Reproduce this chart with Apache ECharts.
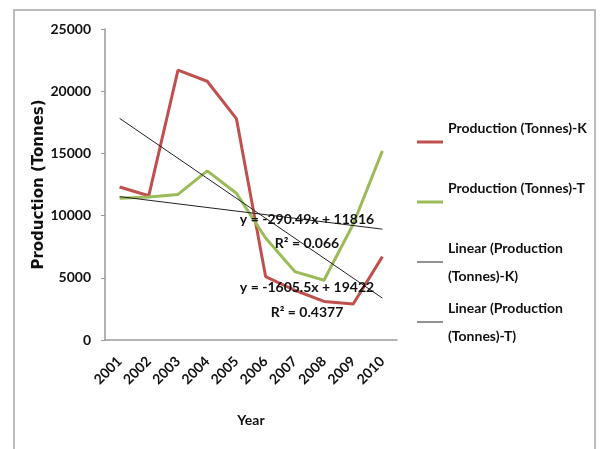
<!DOCTYPE html>
<html>
<head>
<meta charset="utf-8">
<script src="https://cdn.jsdelivr.net/npm/echarts@6/dist/echarts.min.js"></script>
<style>
html,body{margin:0;padding:0;background:#fff;}
#main{width:601px;height:449px;}
</style>
</head>
<body>
<div id="main"></div>
<script>
var years = ['2001','2002','2003','2004','2005','2006','2007','2008','2009','2010'];
var prodK = [12300, 11600, 21700, 20800, 17800, 5100, 4000, 3100, 2900, 6700];
var prodT = [11400, 11500, 11700, 13600, 11800, 8200, 5500, 4800, 9300, 15200];
// trendline end values (first and last year)
var trendK = [17816, null, null, null, null, null, null, null, null, 3367];
var trendT = [11525, null, null, null, null, null, null, null, null, 8911];
var yTicks = [0, 5000, 10000, 15000, 20000, 25000];
var eqK = ['y = -1605.5x + 19422', 'R\u00B2 = 0.4377'];
var eqT = ['y = -290.49x + 11816', 'R\u00B2 = 0.066'];

var FONT = 'Lato, "Open Sans", sans-serif';
var chart = echarts.init(document.getElementById('main'));
var nameK = 'Production (Tonnes)-K', nameT = 'Production (Tonnes)-T';
var nameLK = 'Linear (Production (Tonnes)-K)', nameLT = 'Linear (Production (Tonnes)-T)';
var ICON_THICK = 'path://M0,0 M26,14 M0,5.5H26V8.5H0Z';
var ICON_THIN = 'path://M0,0 M26,14 M0,6.5H26V7.5H0Z';

function annot(text, x, y) {
  return {type:'text', x:x, y:y, z:100,
    style:{text:text, fill:'#111', font:'bold 14px ' + FONT, textAlign:'center', textVerticalAlign:'middle'}};
}

chart.setOption({
  animation:false,
  backgroundColor:'#fff',
  grid:{left:105, right:204, top:29, bottom:109, containLabel:false},
  legend:{
    orient:'vertical', left:417, top:100, padding:0, itemGap:-24,
    itemWidth:26, itemHeight:14,
    data:[
      {name:nameK, icon:ICON_THICK},
      {name:nameT, icon:ICON_THICK},
      {name:nameLK, icon:ICON_THIN},
      {name:nameLT, icon:ICON_THIN}
    ],
    formatter:function(n){
      if (n.indexOf('Linear') === 0) return n.replace('(Production (', '(Production\n(');
      return n + '\n ';
    },
    textStyle:{fontFamily:FONT, fontWeight:'bold', fontSize:14, color:'#111', lineHeight:28, padding:[28,0,0,0]}
  },
  xAxis:{
    type:'category', data:years, boundaryGap:true,
    name:'Year', nameLocation:'middle', nameGap:73,
    nameTextStyle:{fontFamily:FONT, fontWeight:'bold', fontSize:14, color:'#111'},
    axisLine:{lineStyle:{color:'#999', width:1.5}},
    axisTick:{show:false},
    axisLabel:{rotate:45, margin:19, fontFamily:FONT, fontWeight:'bold', fontSize:14, color:'#111', interval:0}
  },
  yAxis:{
    type:'value', min:yTicks[0], max:yTicks[yTicks.length-1], interval:5000,
    name:'Production (Tonnes)', nameLocation:'middle', nameGap:57,
    nameTextStyle:{fontFamily:'"DejaVu Sans", sans-serif', fontWeight:'bold', fontSize:15, color:'#111'},
    axisLine:{show:true, lineStyle:{color:'#999', width:1.5}},
    axisTick:{show:true, length:4, lineStyle:{color:'#999'}},
    splitLine:{show:false},
    axisLabel:{margin:14, fontFamily:FONT, fontWeight:'bold', fontSize:14, color:'#111',
      formatter:function(v){ return String(v); }}
  },
  series:[
    {name:nameK, type:'line', data:prodK, symbol:'none', color:'#C0504D', lineStyle:{width:3, color:'#C0504D'}, z:3},
    {name:nameT, type:'line', data:prodT, symbol:'none', color:'#9BBB59', lineStyle:{width:3, color:'#9BBB59'}, z:3},
    {name:nameLK, type:'line', data:trendK, connectNulls:true, symbol:'none', color:'#222', lineStyle:{width:1, color:'#222'}, z:4},
    {name:nameLT, type:'line', data:trendT, connectNulls:true, symbol:'none', color:'#222', lineStyle:{width:1, color:'#222'}, z:4}
  ],
  graphic:[
    {type:'rect', shape:{x:14, y:10, width:581, height:460}, style:{fill:'none', stroke:'#a6a6a6', lineWidth:1.5}, z:-1},
    annot(eqT[0], 307, 219),
    annot(eqT[1], 307, 243),
    annot(eqK[0], 307, 287),
    annot(eqK[1], 307, 312)
  ]
});
</script>
</body>
</html>
